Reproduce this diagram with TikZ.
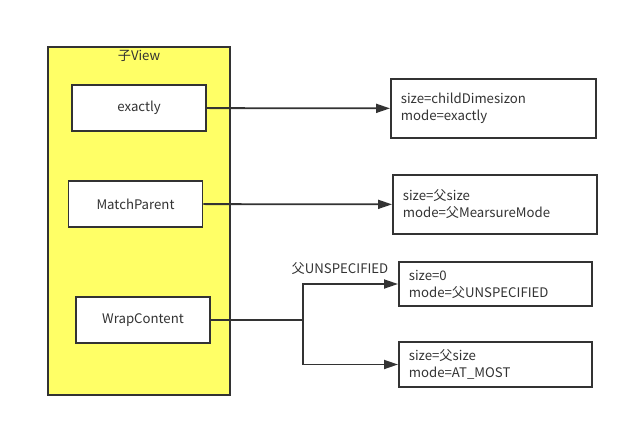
\documentclass[tikz,border=0pt]{standalone}
\usepackage{fontspec}
\setmainfont{Noto Sans CJK SC}
\usetikzlibrary{calc,positioning,arrows.meta}

\definecolor{lineg}{HTML}{333333}
\definecolor{viewy}{HTML}{FFFF66}

\tikzset{
  box/.style={draw=lineg,line width=1.8pt,fill=white,minimum width=134pt,minimum height=46pt,inner sep=0pt},
  info/.style={draw=lineg,line width=1.8pt,fill=white,align=left,inner xsep=10pt,inner ysep=0pt,anchor=west},
  link/.style={draw=lineg,line width=1.8pt,-{Triangle[length=14pt,width=9pt]}}
}

\begin{document}
\begin{tikzpicture}[x=1pt,y=-1pt,font=\fontsize{13.2}{17}\selectfont,text=lineg]
\useasboundingbox (0,0) rectangle (628,428);
\coordinate (E) at (139,108);
\coordinate (M) at (135.5,204);
\coordinate (W) at (143,320);

% child view
\node[draw=lineg,line width=1.8pt,fill=viewy,minimum width=182pt,minimum height=348pt] (view) at (139,221) {};
\node (title) at (139,56) {子View};

\node[box] (exactly) at (E) {exactly};
\node[box] (match) at (M) {MatchParent};
\node[box] (wrap) at (W) {WrapContent};

% results
\node[info,text width=185pt,minimum height=59pt] (res1) at (390,108.5) {size=childDimesizon\\mode=exactly};
\node[info,text width=184pt,minimum height=59pt] (res2) at (392,204.5) {size=父size\\mode=父MearsureMode};
\node[info,text width=173pt,minimum height=44pt] (res3) at (398,284) {size=0\\mode=父UNSPECIFIED};
\node[info,text width=173pt,minimum height=45pt] (res4) at (398,364.5) {size=父size\\mode=AT\_MOST};

\draw[link] (exactly) -- (res1);
\draw[link] (match) -- (res2);

\coordinate (split) at (303,320);
\draw[draw=lineg,line width=1.8pt] (wrap) -- (split);
\draw[link] (split) |- (res3);
\draw[link] (split) |- (res4);
\node (unsp) at (340,269) {父UNSPECIFIED};

\end{tikzpicture}
\end{document}
